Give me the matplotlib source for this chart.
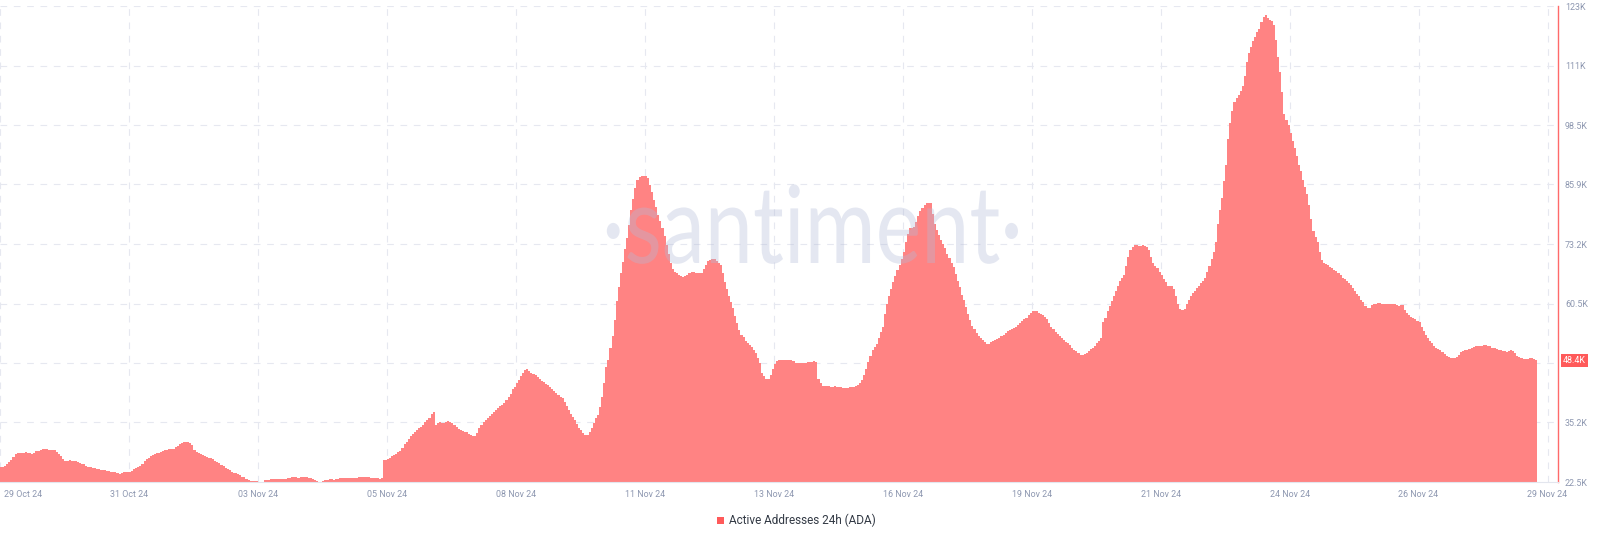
import matplotlib
matplotlib.use("Agg")
import matplotlib.pyplot as plt
import matplotlib.transforms as mtransforms
from matplotlib.textpath import TextPath
from matplotlib.font_manager import FontProperties
from matplotlib.patches import PathPatch, Rectangle
import numpy as np

# Hourly "Active Addresses 24h (ADA)" values, in thousands
seg_oct29_nov05 = [
    25.6, 25.7, 25.8, 26.4, 26.8, 27.2, 27.9, 28.4, 28.6, 28.7,
    28.7, 28.7, 28.8, 28.7, 28.7, 28.4, 28.6, 29.0, 29.1, 29.3,
    29.6, 29.6, 29.5, 29.4, 29.4, 29.4, 29.3, 28.9, 28.5, 28.1,
    27.5, 27.0, 26.9, 27.1, 27.0, 27.0, 26.9, 26.8, 26.6, 26.4,
    26.3, 26.0, 25.7, 25.6, 25.5, 25.4, 25.3, 25.2, 25.1, 25.1,
    25.0, 24.9, 24.8, 24.7, 24.7, 24.6, 24.5, 24.3, 24.5, 24.6,
    24.6, 24.6, 24.7, 24.9, 25.2, 25.4, 25.6, 25.9, 26.3, 26.9,
    27.4, 27.7, 28.0, 28.3, 28.5, 28.6, 28.7, 28.9, 29.1, 29.3,
    29.4, 29.5, 29.5, 29.6, 29.9, 30.1, 30.5, 30.8, 31.0, 31.0,
    31.0, 30.9, 30.4, 29.3, 28.9, 28.7, 28.5, 28.3, 28.1, 27.9,
    27.7, 27.6, 27.3, 27.0, 26.8, 26.5, 26.2, 25.9, 25.5, 25.2,
    25.0, 24.7, 24.5, 24.4, 24.2, 23.9, 23.6, 23.5, 23.2, 23.0,
    22.8, 22.8, 22.7, 22.8, 22.6, 22.5, 22.6, 23.0, 22.9, 22.9,
    23.1, 23.2, 23.1, 23.1, 23.2, 23.2, 23.1, 23.2, 23.3, 23.4,
    23.5, 23.5, 23.5, 23.4, 23.5, 23.5, 23.5, 23.5, 23.4, 23.3,
    23.2, 23.0, 22.8, 22.6, 22.6, 22.7, 22.9, 23.0, 23.1, 23.1,
    23.0, 23.1, 23.2, 23.3, 23.4, 23.4, 23.4, 23.3, 23.4, 23.4,
    23.4, 23.4, 23.5, 23.5, 23.6, 23.6, 23.5, 23.5, 23.4, 23.3,
    23.3, 23.3, 23.2, 23.3,
]
seg_nov05_nov08 = [
    27.1, 27.2, 27.3, 27.6, 28.0, 28.3, 28.5, 28.8, 29.2, 29.8,
    30.6, 31.1, 31.6, 32.2, 32.7, 33.1, 33.5, 34.0, 34.3, 34.6,
    35.3, 35.8, 36.2, 36.9, 37.4, 34.7, 35.0, 35.2, 35.0, 35.1,
    35.2, 35.4, 35.3, 35.0, 34.6, 34.2, 33.8, 33.5, 33.3, 33.2,
    33.1, 32.8, 32.5, 32.3, 32.2, 32.9, 34.0, 34.6, 35.3, 35.8,
    36.2, 36.6, 37.0, 37.5, 37.8, 38.2, 38.6, 38.9, 39.3, 40.0,
    40.6, 41.3,
]
seg_nov08_nov13 = [
    42.2, 42.8, 43.5, 44.3, 45.1, 45.8, 46.4, 46.5, 46.2, 45.8,
    45.5, 45.2, 44.8, 44.5, 44.1, 43.7, 43.4, 43.2, 42.8, 42.3,
    41.8, 41.4, 41.1, 40.7, 40.4, 39.6, 38.6, 37.8, 36.9, 36.3,
    35.6, 34.8, 34.1, 33.5, 33.0, 32.5, 32.6, 33.2, 34.0, 35.0,
    36.2, 36.7, 38.5, 40.5, 43.5, 47.0, 48.5, 51.0, 53.5, 57.0,
    61.0, 64.0, 67.0, 69.3, 72.0, 74.5, 77.3, 80.5, 82.8, 85.0,
    86.8, 87.5, 87.7, 87.7, 87.6, 87.3, 85.8, 84.2, 82.6, 81.0,
    79.4, 78.0, 76.5, 74.8, 73.0, 71.0, 69.2, 67.8, 67.3, 67.0,
    66.6, 66.3, 66.2, 66.4, 66.6, 66.9, 67.3, 67.3, 67.1, 67.1,
    67.1, 67.1, 67.8, 68.8, 69.5, 69.8, 69.9, 69.9, 69.6, 69.1,
    68.6, 66.9, 65.0, 63.5, 62.0, 60.9, 59.6, 57.8, 56.4, 54.8,
    53.8, 53.3, 52.5, 52.1, 51.6, 51.2, 50.5, 50.0, 48.8,
]
seg_nov13_nov19 = [
    47.8, 45.8, 45.0, 44.5, 44.4, 45.3, 46.6, 47.6, 48.3, 48.5,
    48.5, 48.5, 48.4, 48.5, 48.4, 48.4, 48.3, 47.9, 47.9, 47.8,
    47.9, 47.9, 47.8, 48.0, 48.1, 48.1, 48.2, 48.1, 44.4, 43.6,
    43.0, 42.9, 42.9, 43.0, 42.8, 42.8, 42.9, 42.8, 42.7, 42.7,
    42.6, 42.6, 42.6, 42.7, 42.7, 42.8, 42.9, 43.1, 43.6, 44.3,
    45.3, 46.6, 48.0, 49.3, 50.5, 51.2, 51.9, 53.1, 54.4, 55.6,
    58.2, 60.3, 62.0, 63.5, 65.0, 66.3, 67.6, 68.8, 70.0, 71.5,
    73.5, 75.3, 76.5, 76.6, 76.7, 77.8, 79.2, 80.1, 80.9, 81.4,
    81.8, 81.9, 81.9, 79.5, 77.5, 76.2, 75.0, 74.0, 73.2, 72.3,
    71.0, 70.2, 69.2, 68.3, 66.8, 65.3, 64.0, 62.4, 61.3, 59.8,
    58.2, 56.9, 55.8, 55.0, 54.3, 53.6, 53.2, 52.7, 52.3, 51.9,
    51.8, 52.2, 52.5, 52.7, 53.0, 53.2, 53.5, 53.9, 54.3,
]
seg_nov19_nov24 = [
    54.6, 54.9, 55.1, 55.3, 55.6, 56.0, 56.3, 56.7, 57.1, 57.5,
    58.0, 58.5, 59.0, 59.0, 58.8, 58.5, 58.3, 58.0, 57.6, 57.1,
    56.3, 55.6, 55.0, 54.5, 54.0, 53.6, 53.2, 52.8, 52.4, 52.1,
    51.6, 51.0, 50.7, 50.3, 49.9, 49.5, 49.6, 49.8, 50.0, 50.4,
    50.8, 51.1, 51.5, 52.0, 52.5, 53.2, 56.5, 57.5, 59.0, 60.0,
    61.0, 62.0, 63.1, 64.3, 65.2, 65.9, 66.5, 68.5, 70.5, 71.8,
    72.6, 72.9, 72.9, 72.8, 72.8, 72.9, 72.7, 72.6, 71.8, 70.5,
    69.2, 68.5, 68.0, 67.3, 66.5, 65.8, 65.0, 64.3, 64.2, 64.2,
    63.5, 62.0, 60.5, 59.4, 59.2, 59.3, 60.5, 61.3, 62.0, 62.7,
    63.2, 63.9, 64.3, 64.8, 65.2, 66.0, 67.3, 68.4, 70.0, 71.5,
    73.5, 77.5, 80.5, 83.0, 86.5, 90.0, 95.5, 99.0, 101.5, 103.3,
    104.2, 104.9, 105.8, 106.8, 109.0, 112.0, 113.8, 115.2, 116.4, 117.3,
    118.2, 119.0, 120.5, 121.5, 121.9, 121.3, 120.8, 120.6, 119.8, 116.5,
    113.0, 109.8, 105.5,
]
seg_nov24_nov29 = [
    100.8, 99.5, 98.5, 96.8, 95.0, 93.6, 92.0, 90.0, 88.7, 86.8,
    85.3, 83.9, 81.5, 78.5, 76.0, 74.6, 73.7, 71.5, 69.8, 69.2,
    69.0, 68.6, 68.3, 68.0, 67.7, 67.4, 67.1, 66.6, 66.0, 65.7,
    65.3, 64.8, 64.5, 63.9, 63.2, 62.5, 62.0, 61.3, 60.8, 60.0,
    59.6, 59.5, 60.1, 60.4, 60.5, 60.6, 60.6, 60.5, 60.5, 60.4,
    60.4, 60.3, 60.3, 60.3, 60.2, 59.9, 60.2, 60.2, 59.2, 58.5,
    58.0, 57.7, 57.4, 57.1, 56.8, 56.6, 55.5, 54.6, 53.9, 53.2,
    52.5, 52.0, 51.5, 51.0, 50.8, 50.5, 50.1, 49.8, 49.4, 49.1,
    48.9, 48.9, 49.0, 49.1, 49.6, 50.1, 50.3, 50.5, 50.7, 50.9,
    51.1, 51.3, 51.4, 51.4, 51.5, 51.5, 51.6, 51.6, 51.5, 51.4,
    51.1, 51.0, 50.8, 50.6, 50.5, 50.4, 50.3, 50.2, 50.4, 50.6,
    50.3, 49.9, 49.4, 49.1, 48.8, 48.7, 48.7, 48.7, 48.8, 48.8,
    48.7, 48.4,
]

date_labels = ["29 Oct 24", "31 Oct 24", "03 Nov 24", "05 Nov 24", "08 Nov 24",
               "11 Nov 24", "13 Nov 24", "16 Nov 24", "19 Nov 24", "21 Nov 24",
               "24 Nov 24", "26 Nov 24", "29 Nov 24"]
hours_per_date_tick = 62
ytick_values = [22.5, 35.17, 47.84, 60.5, 73.17, 85.84, 98.5, 111.17, 123.84]
ytick_labels = ["22.5K", "35.2K", "", "60.5K", "73.2K", "85.9K", "98.5K", "111K", "123K"]
last_value_label = "48.4K"
series_name = "Active Addresses 24h (ADA)"

values = (seg_oct29_nov05 + seg_nov05_nov08 + seg_nov08_nov13 +
          seg_nov13_nov19 + seg_nov19_nov24 + seg_nov24_nov29)
n = len(values)

W, H = 1600, 542
fig = plt.figure(figsize=(W / 100, H / 100), dpi=100)
ax_right_px, ax_top_px, ax_bot_px = 1558, 6, 482
ax = fig.add_axes([0, 1 - ax_bot_px / H, ax_right_px / W, (ax_bot_px - ax_top_px) / H])

bar_color = "#ff8383"
ax.bar(np.arange(n), values, width=1.0, align="edge", color=bar_color,
       linewidth=0, zorder=2)

ax.set_xlim(0, ax_right_px / 2.08)
ax.set_ylim(ytick_values[0], ytick_values[-1])

grid_color = "#e6e8f0"
for yv in ytick_values[1:]:
    ax.axhline(yv, color=grid_color, lw=0.8, dashes=(6, 6), zorder=1)
xticks = [hours_per_date_tick * k for k in range(len(date_labels))]
for xv in xticks:
    ax.axvline(xv, color=grid_color, lw=0.8, dashes=(6, 6), zorder=1)

for s in ["left", "top"]:
    ax.spines[s].set_visible(False)
ax.spines["right"].set_color("#ff6a6a")
ax.spines["right"].set_linewidth(1.0)
ax.spines["bottom"].set_color("#e3e6ee")
ax.spines["bottom"].set_linewidth(0.8)

tick_color = "#8d97b0"
tick_font = "Roboto"
ax.yaxis.tick_right()
ax.set_yticks(ytick_values)
ax.set_yticklabels(ytick_labels, fontsize=6.4, color=tick_color, family=tick_font)
ax.tick_params(axis="y", length=0, pad=5)
ax.set_xticks(xticks)
ax.set_xticklabels(date_labels, fontsize=6.4, color=tick_color, family=tick_font)
ax.tick_params(axis="x", length=0, pad=6)
first = ax.get_xticklabels()[0]
first.set_ha("left")
first.set_transform(first.get_transform() +
                    mtransforms.ScaledTranslation(4 / 100, 0, fig.dpi_scale_trans))

# last value tag
tag_tr = mtransforms.blended_transform_factory(ax.transAxes, ax.transData)
ax.text(1.0, values[-1], last_value_label,
        transform=tag_tr + mtransforms.ScaledTranslation(5 / 100, 0, fig.dpi_scale_trans),
        ha="left", va="center", fontsize=6.4, color="white", family=tick_font,
        bbox=dict(boxstyle="square,pad=0.25", fc="#ff5a5a", ec="none"), zorder=5,
        clip_on=False)

# watermark
fp = FontProperties(family="Lato", weight="normal")
tp = TextPath((0, 0), "\u00b7santiment\u00b7", size=100, prop=fp)
verts = tp.vertices
x0, x1 = verts[:, 0].min(), verts[:, 0].max()
sx = (1018 - 602) / (x1 - x0)
sy = 55 / 51.0
wm_tr = (mtransforms.Affine2D().translate(-x0, 0).scale(sx, sy)
         .translate(602, H - 263))
wm = PathPatch(wm_tr.transform_path(tp), facecolor="#b3bcd8", edgecolor="none",
               alpha=0.35, transform=mtransforms.IdentityTransform(), zorder=10)
fig.add_artist(wm)

# legend
leg_y = H - 520
fig.add_artist(Rectangle(((720 - 3.5) / W, (leg_y - 3.5) / H), 7 / W, 7 / H,
                         transform=fig.transFigure, facecolor="#ff5a5a", edgecolor="none"))
fig.text(729 / W, leg_y / H, series_name, ha="left", va="center",
         fontsize=8.5, color="#333a45", family=tick_font)

fig.savefig("out.png", dpi=100)
